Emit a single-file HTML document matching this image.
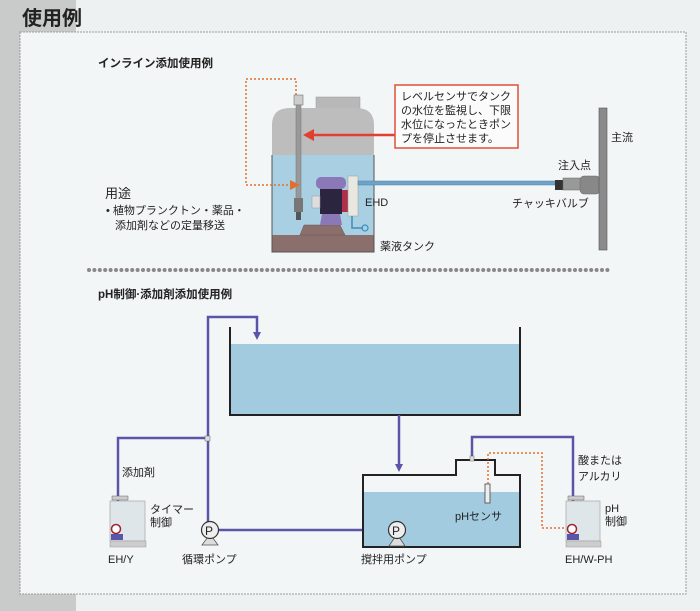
<!DOCTYPE html>
<html><head><meta charset="utf-8"><style>
html,body{margin:0;padding:0;}
body{width:700px;height:611px;background:#eef1f1;position:relative;overflow:hidden;font-family:"Liberation Sans","Noto Sans CJK JP",sans-serif;}
svg{position:absolute;left:0;top:0;}
text{font-family:"Liberation Sans","Noto Sans CJK JP",sans-serif;fill:#222;}
</style></head><body>
<svg width="700" height="611" viewBox="0 0 700 611">
<defs>
<marker id="pa" markerWidth="8" markerHeight="8" refX="4" refY="4" orient="auto" markerUnits="userSpaceOnUse"><path d="M0,0 L8,4 L0,8 z" fill="#5a55a8"/></marker>
</defs>
<rect x="0" y="0" width="76" height="611" fill="#c9cbcb"/>
<rect x="20" y="32" width="666" height="562" fill="#f3f6f6" stroke="#9a9c9c" stroke-width="1" stroke-dasharray="2,1"/>
<text x="22" y="25" font-size="20" font-weight="bold" fill="#111">使用例</text>

<text x="98" y="67" font-size="11.5" font-weight="bold">インライン添加使用例</text>
<rect x="316" y="97" width="44" height="12" fill="#b8b8b8" stroke="#999" stroke-width="0.5"/>
<path d="M272,252 L272,125 Q272,108 290,108 L356,108 Q374,108 374,125 L374,252 Z" fill="#bdbdbd"/>
<path d="M272,155 L374,155 L374,252 L272,252 Z" fill="#a9cfe2"/>
<rect x="272" y="235" width="102" height="17" fill="#8a6f6c"/>
<path d="M272,155 L272,252 L374,252 L374,155" fill="none" stroke="#555" stroke-width="1"/>
<path d="M300,235 L304,225 L340,225 L345,235 Z" fill="#8a6f6c" stroke="#6b5350" stroke-width="0.5"/>
<rect x="294" y="95" width="9" height="10" fill="#ccc" stroke="#777" stroke-width="0.6"/>
<rect x="296" y="105" width="5" height="95" fill="#999" stroke="#777" stroke-width="0.5"/>
<rect x="294" y="198" width="9" height="14" fill="#777"/>
<rect x="296" y="212" width="5" height="8" fill="#555"/>
<rect x="316" y="177" width="30" height="12" rx="5" fill="#8a78b8"/>
<rect x="320" y="189" width="22" height="25" fill="#2b2540"/>
<rect x="342" y="190" width="6" height="22" fill="#b0304a"/>
<rect x="312" y="196" width="8" height="12" fill="#ddd" stroke="#999" stroke-width="0.5"/>
<path d="M322,214 L340,214 L342,225 L320,225 Z" fill="#8a78b8"/>
<rect x="348" y="176" width="10" height="40" fill="#e8e8e0" stroke="#999" stroke-width="0.5"/>
<path d="M352,216 L352,228 L363,228" fill="none" stroke="#3a8ec0" stroke-width="1.5"/>
<circle cx="365" cy="228" r="3" fill="none" stroke="#3a8ec0" stroke-width="1.2"/>
<text x="365" y="206" font-size="11">EHD</text>
<rect x="358" y="181" width="197" height="4" fill="#6fa4c8" stroke="#4a7ea8" stroke-width="0.5"/>
<rect x="555" y="180" width="8" height="10" fill="#333"/>
<rect x="563" y="178" width="18" height="12" fill="#999" stroke="#666" stroke-width="0.5"/>
<rect x="580" y="176" width="20" height="18" rx="4" fill="#888" stroke="#666" stroke-width="0.5"/>
<rect x="599" y="108" width="8" height="142" fill="#8a8a8a" stroke="#555" stroke-width="0.6"/>
<text x="611" y="141" font-size="11">主流</text>
<text x="558" y="169" font-size="11">注入点</text>
<text x="512" y="207" font-size="11">チャッキバルブ</text>
<path d="M296,95 L296,79 L246,79 L246,185 L292,185" fill="none" stroke="#e07030" stroke-width="1.5" stroke-dasharray="2,2"/>
<path d="M290,180 L300,185 L290,190 z" fill="#e07030"/>
<line x1="395" y1="135" x2="312" y2="135" stroke="#e04030" stroke-width="2.5"/>
<path d="M314,129 L303,135 L314,141 z" fill="#e04030"/>
<rect x="395" y="85" width="123" height="63" fill="#fbfbfb" stroke="#e05038" stroke-width="1.5"/>
<text font-size="11"><tspan x="401" y="100">レベルセンサでタンク</tspan><tspan x="401" y="114">の水位を監視し、下限</tspan><tspan x="401" y="128">水位になったときポン</tspan><tspan x="401" y="142">プを停止させます。</tspan></text>
<text x="380" y="250" font-size="11">薬液タンク</text>
<text x="105" y="198" font-size="13">用途</text>
<text x="106" y="214" font-size="11">• 植物プランクトン・薬品・</text>
<text x="115" y="229" font-size="11">添加剤などの定量移送</text>
<line x1="89" y1="270" x2="608" y2="270" stroke="#888" stroke-width="4" stroke-dasharray="0,5.4" stroke-linecap="round"/>
<text x="98" y="298" font-size="11.5" font-weight="bold">pH制御·添加剤添加使用例</text>

<rect x="230" y="344" width="290" height="71" fill="#a3cbe0"/>
<path d="M230,327 L230,415 L520,415 L520,327" fill="none" stroke="#222" stroke-width="2"/>
<g fill="none" stroke="#5a55a8" stroke-width="2.5">
<path d="M208,522 L208,317 L257,317 L257,336" marker-end="url(#pa)"/>
<path d="M208,438 L118,438 L118,528"/>
<path d="M218,530 L363,530"/>
<path d="M399,415 L399,468" marker-end="url(#pa)"/>
<path d="M472,460 L472,437 L573,437 L573,528"/>
</g>
<rect x="205" y="436" width="5" height="5" fill="#ddd" stroke="#666" stroke-width="0.5"/>
<path d="M363,492 L520,492 L520,547 L363,547 Z" fill="#a3cbe0"/>
<path d="M363,475 L456,475 L456,460 L495,460 L495,475 L520,475 L520,547 L363,547 Z" fill="none" stroke="#222" stroke-width="2"/>
<rect x="470" y="456" width="4" height="5" fill="#ddd" stroke="#666" stroke-width="0.5"/>
<rect x="485" y="484" width="5" height="19" fill="#eee" stroke="#444" stroke-width="0.8"/>
<text x="455" y="520" font-size="11">pHセンサ</text>
<path d="M488,484 L488,453 L542,453 L542,528 L568,528" fill="none" stroke="#e07030" stroke-width="1.5" stroke-dasharray="2,2"/>
<path d="M202,545 L210,534 L218,545 Z" fill="#ddd" stroke="#555" stroke-width="0.8"/>
<circle cx="210" cy="530" r="8.5" fill="#eee" stroke="#333" stroke-width="1.2"/>
<text x="205" y="535" font-size="12">P</text>
<path d="M389,546 L397,534 L405,546 Z" fill="#ddd" stroke="#555" stroke-width="0.8"/>
<circle cx="397" cy="530" r="8.5" fill="#eee" stroke="#333" stroke-width="1.2"/>
<text x="392" y="535" font-size="12">P</text>
<rect x="112" y="496" width="16" height="4" fill="#ccc" stroke="#666" stroke-width="0.5"/>
<rect x="110" y="501" width="35" height="40" fill="#dfe6ea" stroke="#999" stroke-width="0.6"/>
<rect x="110" y="541" width="36" height="6" fill="#ccc" stroke="#999" stroke-width="0.5"/>
<circle cx="116" cy="529" r="4.5" fill="#fff" stroke="#a02030" stroke-width="1.5"/>
<rect x="111" y="534" width="12" height="6" fill="#5a55a8"/>
<text font-size="11"><tspan x="150" y="513">タイマー</tspan><tspan x="150" y="526">制御</tspan></text>
<text x="122" y="476" font-size="11">添加剤</text>
<text x="108" y="563" font-size="11">EH/Y</text>
<text x="182" y="563" font-size="11">循環ポンプ</text>
<text x="361" y="563" font-size="11">撹拌用ポンプ</text>
<rect x="568" y="496" width="16" height="4" fill="#ccc" stroke="#666" stroke-width="0.5"/>
<rect x="566" y="501" width="34" height="40" fill="#dfe6ea" stroke="#999" stroke-width="0.6"/>
<rect x="566" y="541" width="35" height="6" fill="#ccc" stroke="#999" stroke-width="0.5"/>
<circle cx="572" cy="529" r="4.5" fill="#fff" stroke="#a02030" stroke-width="1.5"/>
<rect x="567" y="534" width="12" height="6" fill="#5a55a8"/>
<text font-size="11"><tspan x="605" y="512">pH</tspan><tspan x="605" y="525">制御</tspan></text>
<text font-size="11"><tspan x="578" y="464">酸または</tspan><tspan x="578" y="480">アルカリ</tspan></text>
<text x="565" y="563" font-size="11">EH/W-PH</text>
</svg>
</body></html>
